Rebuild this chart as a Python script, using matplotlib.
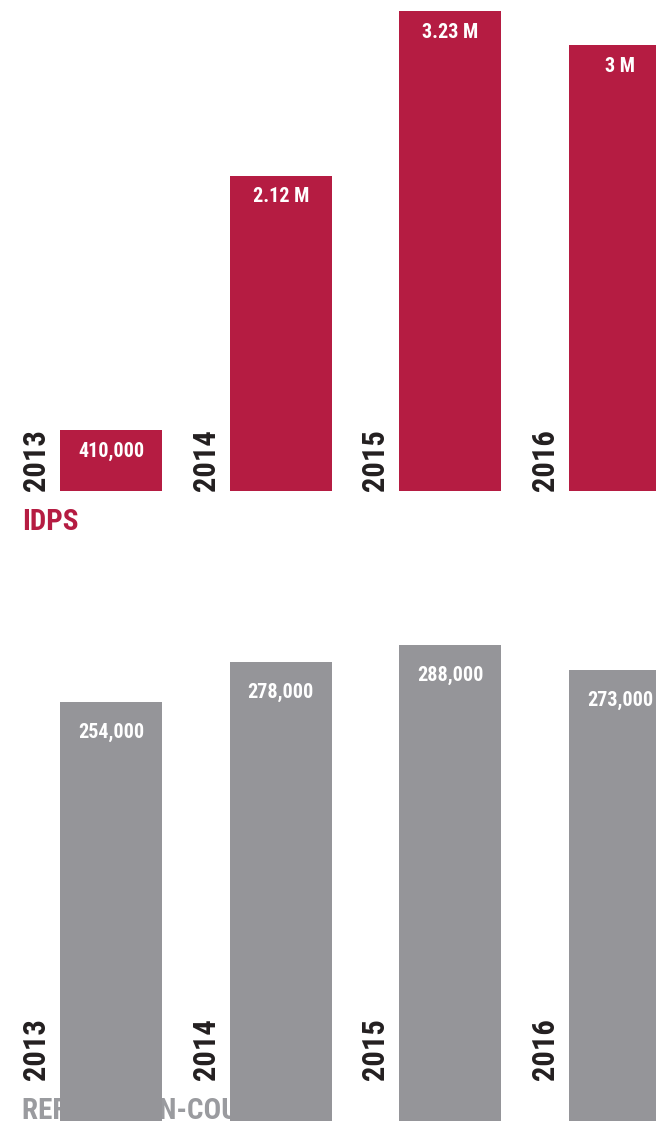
import matplotlib
matplotlib.use("Agg")
import matplotlib.pyplot as plt
from matplotlib import font_manager as fm

# ── DATA ──────────────────────────────────────────────────────────────────────
years = ['2013', '2014', '2015', '2016']
idps = [410000, 2120000, 3230000, 3000000]
idps_labels = ['410,000', '2.12 M', '3.23 M', '3 M']
refugees = [254000, 278000, 288000, 273000]
refugees_labels = ['254,000', '278,000', '288,000', '273,000']

RED = '#B51C42'
GREY = '#959599'
DARK = '#231F20'

# ── FONT: prefer a condensed bold face ────────────────────────────────────────
names = {f.name for f in fm.fontManager.ttflist}
FONT = 'DejaVu Sans'
STRETCH = 'normal'
for cand in ['Roboto Condensed', 'Liberation Sans Narrow', 'Open Sans Condensed',
             'DejaVu Sans Condensed', 'Noto Sans Condensed']:
    if cand in names:
        FONT = cand
        break
else:
    if any(f.name == 'DejaVu Sans' and f.stretch == 'condensed' for f in fm.fontManager.ttflist):
        STRETCH = 'condensed'
fkw = dict(family=FONT, fontstretch=STRETCH, fontweight='bold')

W, H = 656, 1121
fig = plt.figure(figsize=(W / 100, H / 100), dpi=100)
fig.patch.set_facecolor('white')

x = list(range(len(years)))
step = 169.7           # px between bar centres
first = 111            # px centre of first bar
xlim = (-first / step, (W - first) / step)
bw = 102 / step

# ── Section titles (drawn behind the bars) ────────────────────────────────────
fig.text(22 / W, (H - 508) / H, 'IDPS', ha='left', va='top', color=RED,
         fontsize=21, zorder=-1, **fkw)
fig.text(22 / W, (H - 1097) / H, 'REFUGEES IN-COUNTRY', ha='left', va='top',
         color='#9A9B9F', fontsize=21, zorder=-1, **fkw)

# ── Top panel: IDPs ───────────────────────────────────────────────────────────
ax1 = fig.add_axes([0, (H - 491) / H, 1, 491 / H])
ax1.bar(x, idps, width=bw, color=RED, zorder=3)
ax1.set_xlim(*xlim)
ax1.set_ylim(0, max(idps) * 491 / 480)
for i, (v, lab) in enumerate(zip(idps, idps_labels)):
    ax1.annotate(lab, (i, v), xytext=(0, -21), textcoords='offset pixels',
                 ha='center', va='center', color='white', fontsize=14.5, zorder=4, **fkw)
    ax1.annotate(years[i], (i - bw / 2, 0), xytext=(-24, 0), textcoords='offset pixels',
                 ha='center', va='bottom', rotation=90, color=DARK, fontsize=22,
                 annotation_clip=False, **fkw)
ax1.axis('off')

# ── Bottom panel: refugees (baseline sits just below the image edge) ─────────
ax2 = fig.add_axes([0, -7 / H, 1, 568 / H])
ax2.bar(x, refugees, width=bw, color=GREY, zorder=3)
ax2.set_xlim(*xlim)
scale = 1.676 / 1000   # px per person
ax2.set_ylim(0, 568 / scale)
for i, (v, lab) in enumerate(zip(refugees, refugees_labels)):
    ax2.annotate(lab, (i, v), xytext=(0, -30), textcoords='offset pixels',
                 ha='center', va='center', color='white', fontsize=14.5, zorder=4, **fkw)
    ax2.annotate(years[i], (i - bw / 2, 0), xytext=(-24, 48), textcoords='offset pixels',
                 ha='center', va='bottom', rotation=90, color=DARK, fontsize=22,
                 annotation_clip=False, **fkw)
ax2.axis('off')
ax2.patch.set_alpha(0)
ax1.patch.set_alpha(0)

fig.savefig('out.png', dpi=100, facecolor='white')
